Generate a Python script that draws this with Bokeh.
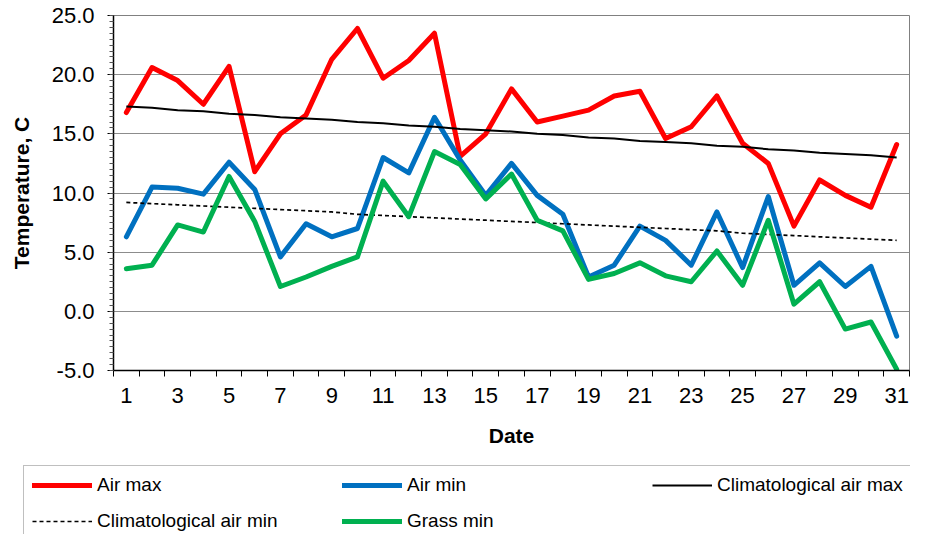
from bokeh.plotting import figure
from bokeh.layouts import column, row
from bokeh.models import Legend, LegendItem, FixedTicker, PrintfTickFormatter, Range1d, Spacer
from bokeh.embed import file_html
from bokeh.resources import INLINE

days = list(range(1, 32))
air_max = [16.8, 20.6, 19.5, 17.5, 20.7, 11.8, 15.0, 16.6, 21.3, 23.9,
           19.7, 21.2, 23.5, 13.1, 15.0, 18.8, 16.0, 16.5, 17.0, 18.2,
           18.6, 14.6, 15.6, 18.2, 14.2, 12.5, 7.2, 11.1, 9.8, 8.8, 14.1]
air_min = [6.3, 10.5, 10.4, 9.9, 12.6, 10.3, 4.6, 7.4, 6.3, 7.0,
           13.0, 11.7, 16.4, 12.8, 9.8, 12.5, 9.8, 8.2, 2.9, 3.9,
           7.2, 6.0, 3.9, 8.4, 3.7, 9.7, 2.2, 4.1, 2.1, 3.8, -2.1]
clim_max = [17.3, 17.2, 17.0, 16.9, 16.7, 16.6, 16.4, 16.3, 16.2, 16.0,
            15.9, 15.7, 15.6, 15.4, 15.3, 15.2, 15.0, 14.9, 14.7, 14.6,
            14.4, 14.3, 14.2, 14.0, 13.9, 13.7, 13.6, 13.4, 13.3, 13.2, 13.0]
clim_min = [9.2, 9.1, 9.0, 8.9, 8.8, 8.7, 8.6, 8.5, 8.4, 8.2,
            8.1, 8.0, 7.9, 7.8, 7.7, 7.6, 7.5, 7.4, 7.3, 7.2,
            7.1, 7.0, 6.9, 6.8, 6.6, 6.5, 6.4, 6.3, 6.2, 6.1, 6.0]
grass_min = [3.6, 3.9, 7.3, 6.7, 11.4, 7.6, 2.1, 2.9, 3.8, 4.6,
             11.0, 8.0, 13.5, 12.4, 9.5, 11.6, 7.7, 6.8, 2.7, 3.2,
             4.1, 3.0, 2.5, 5.1, 2.2, 7.7, 0.6, 2.5, -1.5, -0.9, -4.9]
x_tick_days = days[::2]
y_ticks = [-5, 0, 5, 10, 15, 20, 25]
series_labels = ["Air max", "Air min", "Climatological air max",
                 "Climatological air min", "Grass min"]

FONT = "Liberation Sans"
styles = [
    dict(line_color="#FF0000", line_width=5, line_join="round", line_cap="round"),
    dict(line_color="#0070C0", line_width=5, line_join="round", line_cap="round"),
    dict(line_color="black", line_width=2),
    dict(line_color="black", line_width=1.7, line_dash="4 3"),
    dict(line_color="#00B050", line_width=5, line_join="round", line_cap="round"),
]

p = figure(width=910, height=465, output_backend="svg", toolbar_location=None,
           x_range=Range1d(0.5, 31.5), y_range=Range1d(-5, 25),
           min_border_left=113, min_border_top=15, min_border_bottom=95,
           min_border_right=1)

p.outline_line_color = "#808080"
p.outline_line_width = 1
p.xgrid.grid_line_color = None
p.ygrid.grid_line_color = "#8c8c8c"
p.ygrid.grid_line_width = 1

# x axis
p.xaxis.ticker = FixedTicker(ticks=x_tick_days,
                             minor_ticks=[d - 0.5 for d in days] + [days[-1] + 0.5])
p.xaxis.major_tick_line_color = None
p.xaxis.major_tick_out = 6
p.xaxis.major_tick_in = 0
p.xaxis.minor_tick_line_color = "black"
p.xaxis.minor_tick_out = 6
p.xaxis.minor_tick_in = 0
p.xaxis.axis_line_color = "black"
p.xaxis.axis_line_width = 1.5
p.xaxis.major_label_standoff = 11
p.xaxis.major_label_text_font = FONT
p.xaxis.major_label_text_font_size = "22px"
p.xaxis.major_label_text_color = "black"
p.xaxis.axis_label = "Date"
p.xaxis.axis_label_text_font = FONT
p.xaxis.axis_label_text_font_size = "21px"
p.xaxis.axis_label_text_font_style = "bold"
p.xaxis.axis_label_text_color = "black"
p.xaxis.axis_label_standoff = 18

# y axis
minor_y = [v / 2 for v in range(-10, 51)]
p.yaxis.ticker = FixedTicker(ticks=y_ticks, minor_ticks=minor_y)
p.yaxis.formatter = PrintfTickFormatter(format="%.1f")
p.yaxis.major_tick_out = 6
p.yaxis.major_tick_in = 0
p.yaxis.minor_tick_out = 4
p.yaxis.minor_tick_in = 0
p.yaxis.major_tick_line_color = "black"
p.yaxis.minor_tick_line_color = "#555555"
p.yaxis.axis_line_color = "black"
p.yaxis.axis_line_width = 1.5
p.yaxis.major_label_standoff = 13
p.yaxis.major_label_text_font = FONT
p.yaxis.major_label_text_font_size = "22px"
p.yaxis.major_label_text_color = "black"
p.yaxis.axis_label = "Temperature, C"
p.yaxis.axis_label_text_font = FONT
p.yaxis.axis_label_text_font_size = "21px"
p.yaxis.axis_label_text_font_style = "bold"
p.yaxis.axis_label_text_color = "black"
p.yaxis.axis_label_standoff = 16

series = [air_max, air_min, clim_max, clim_min, grass_min]
for ys, st in zip(series, styles):
    p.line(days, ys, **st)

# legend panel below the chart
p2 = figure(width=887, height=69, output_backend="svg", toolbar_location=None,
            x_range=Range1d(0, 1), y_range=Range1d(0, 1),
            x_axis_type=None, y_axis_type=None, min_border=0,
            outline_line_color=None)
p2.grid.visible = False
items = []
for lab, st in zip(series_labels, styles):
    r = p2.line([-10, -9], [-10, -9], **st)
    items.append(LegendItem(label=lab, renderers=[r]))

legend = Legend(items=items, location="top_left", orientation="horizontal", ncols=3,
                padding=8, spacing=14, glyph_width=60, glyph_height=22,
                label_height=22, label_width=231, label_standoff=5,
                label_text_font=FONT, label_text_font_size="19px",
                label_text_color="black", border_line_color="#808080",
                border_line_width=1, background_fill_color="white",
                background_fill_alpha=1, margin=0)
p2.add_layout(legend)

layout = column(p, row(Spacer(width=23, height=69), p2))

open("out.html", "w").write(file_html(layout, INLINE))
